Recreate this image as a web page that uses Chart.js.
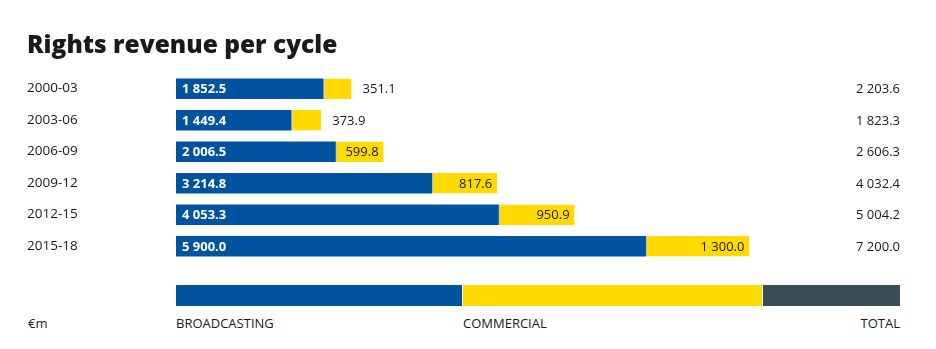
<!DOCTYPE html>
<html>
<head>
<meta charset="utf-8">
<script src="https://cdn.jsdelivr.net/npm/chart.js@4/dist/chart.umd.min.js"></script>
<style>
    body { margin: 0; background: #fff; font-family: "Open Sans", sans-serif; color: #1a1a1a; }
    #wrap { position: relative; width: 936px; height: 349px; }
    #chart { position: absolute; left: 0; top: 0; }
    .key { position: absolute; top: 285px; height: 21px; }
    .keylabel { position: absolute; top: 314px; font-size: 13px; line-height: 18px; }
</style>
</head>
<body>
<div id="wrap">
    <canvas id="chart" width="936" height="270"></canvas>
    <div class="key" style="left:176px;width:286px;background:#00539f"></div>
    <div class="key" style="left:463px;width:299px;background:#ffda00"></div>
    <div class="key" style="left:763px;width:137px;background:#3a4d56"></div>
    <div class="keylabel" style="left:28px">€m</div>
    <div class="keylabel" style="left:176px">BROADCASTING</div>
    <div class="keylabel" style="left:463px">COMMERCIAL</div>
    <div class="keylabel" style="right:36px">TOTAL</div>
</div>
<script>
var cycles = ["2000-03", "2003-06", "2006-09", "2009-12", "2012-15", "2015-18"];
var broadcasting = [1852.5, 1449.4, 2006.5, 3214.8, 4053.3, 5900.0];
var commercial = [351.1, 373.9, 599.8, 817.6, 950.9, 1300.0];
var totals = [2203.6, 1823.3, 2606.3, 4032.4, 5004.2, 7200.0];

var BLUE = '#00539f', YELLOW = '#ffda00', INK = '#1a1a1a';

// 1852.5 -> "1 852.5"
var fmt = function (v) {
    var parts = v.toFixed(1).split('.');
    return parts[0].replace(/\B(?=(\d{3})+(?!\d))/g, ' ') + '.' + parts[1];
};

var valueLabels = {
    id: 'valueLabels',
    afterDatasetsDraw: function (chart) {
        var ctx = chart.ctx;
        ctx.save();
        ctx.textBaseline = 'middle';

        // broadcasting: white, bold, at the start of the bar
        ctx.font = 'bold 13px "Open Sans"';
        ctx.fillStyle = '#fff';
        ctx.textAlign = 'left';
        chart.getDatasetMeta(0).data.forEach(function (bar, i) {
            var p = bar.getProps(['x', 'y', 'base'], true);
            ctx.fillText(fmt(broadcasting[i]), p.base + 6, p.y + 1);
        });

        // commercial: inside the segment if it fits, otherwise after it
        ctx.font = '13px "Open Sans"';
        ctx.fillStyle = INK;
        chart.getDatasetMeta(1).data.forEach(function (bar, i) {
            var p = bar.getProps(['x', 'y', 'base'], true);
            var txt = fmt(commercial[i]);
            var w = ctx.measureText(txt).width;
            if (w + 12 < p.x - p.base) {
                ctx.textAlign = 'right';
                ctx.fillText(txt, p.x - 5, p.y + 1);
            } else {
                ctx.textAlign = 'left';
                ctx.fillText(txt, p.x + 11, p.y + 1);
            }
        });

        // totals in the right column
        ctx.textAlign = 'right';
        chart.getDatasetMeta(0).data.forEach(function (bar, i) {
            ctx.fillText(fmt(totals[i]), chart.chartArea.right, bar.y + 1);
        });
        ctx.restore();
    }
};

new Chart(document.getElementById('chart'), {
    type: 'bar',
    data: {
        labels: cycles,
        datasets: [{
            label: 'Broadcasting',
            data: broadcasting,
            backgroundColor: BLUE,
            barPercentage: 0.65,
            categoryPercentage: 1
        }, {
            label: 'Commercial',
            data: commercial,
            backgroundColor: YELLOW,
            borderColor: 'rgba(120,140,150,0.6)',
            borderWidth: {left: 1, right: 0, top: 0, bottom: 0},
            borderSkipped: false,
            barPercentage: 0.65,
            categoryPercentage: 1
        }]
    },
    options: {
        indexAxis: 'y',
        responsive: false,
        animation: false,
        layout: {padding: {left: 27, right: 36, top: 31, bottom: 5}},
        plugins: {
            legend: {display: false},
            tooltip: {enabled: false},
            title: {
                display: true,
                text: 'Rights revenue per cycle',
                align: 'start',
                color: INK,
                font: {family: '"Open Sans"', size: 24.5, weight: '800', lineHeight: 1.22},
                padding: {top: 0, bottom: 12}
            }
        },
        scales: {
            x: {
                stacked: true,
                min: 0,
                max: 9090,
                display: false
            },
            y: {
                stacked: true,
                grid: {display: false},
                border: {display: false},
                ticks: {
                    color: INK,
                    crossAlign: 'far',
                    padding: 0,
                    font: {family: '"Open Sans"', size: 13.5}
                },
                afterFit: function (scale) {
                    scale.width = 149;
                }
            }
        }
    },
    plugins: [valueLabels]
});
</script>
</body>
</html>
